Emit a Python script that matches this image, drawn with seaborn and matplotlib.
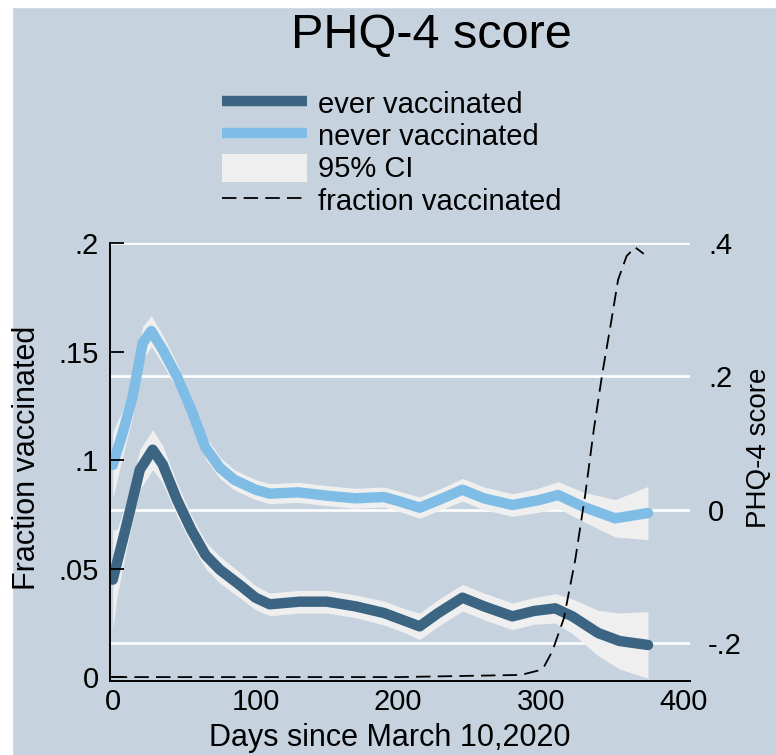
import numpy as np
import pandas as pd
import matplotlib
matplotlib.use("Agg")
import matplotlib.pyplot as plt
import seaborn as sns
from matplotlib.lines import Line2D
from matplotlib.patches import Patch, Rectangle

# ---------------- data ----------------
days_ever = [0, 3, 10, 19, 28, 35, 45, 55, 65, 75, 89, 100, 110, 131, 150, 170, 190, 205, 215, 228, 245, 260, 280, 295, 310, 322, 340, 355, 375]
phq_ever = [-0.105, -0.08, -0.02, 0.06, 0.09, 0.068, 0.015, -0.03, -0.068, -0.09, -0.113, -0.132, -0.142, -0.138, -0.138, -0.145, -0.155, -0.167, -0.175, -0.155, -0.132, -0.145, -0.16, -0.152, -0.148, -0.16, -0.185, -0.197, -0.203]
ever_lo = [-0.18, -0.13, -0.055, 0.03, 0.06, 0.04, -0.01, -0.052, -0.088, -0.11, -0.132, -0.15, -0.159, -0.155, -0.155, -0.162, -0.173, -0.185, -0.195, -0.175, -0.152, -0.165, -0.18, -0.172, -0.17, -0.186, -0.219, -0.239, -0.253]
ever_hi = [-0.03, -0.03, 0.015, 0.09, 0.12, 0.096, 0.04, -0.008, -0.048, -0.07, -0.094, -0.114, -0.125, -0.121, -0.121, -0.128, -0.137, -0.149, -0.155, -0.135, -0.112, -0.125, -0.14, -0.132, -0.126, -0.134, -0.151, -0.155, -0.153]

days_never = [0, 7, 14, 21, 27, 35, 45, 55, 65, 75, 85, 100, 110, 130, 150, 170, 190, 200, 215, 230, 245, 260, 280, 298, 312, 330, 352, 375]
phq_never = [0.067, 0.115, 0.17, 0.25, 0.268, 0.24, 0.2, 0.15, 0.093, 0.063, 0.045, 0.03, 0.024, 0.026, 0.021, 0.017, 0.019, 0.013, 0.003, 0.016, 0.03, 0.017, 0.007, 0.014, 0.022, 0.004, -0.013, -0.005]
never_lo = [0.017, 0.08, 0.14, 0.225, 0.245, 0.218, 0.18, 0.132, 0.076, 0.047, 0.03, 0.015, 0.009, 0.011, 0.006, 0.002, 0.004, -0.002, -0.013, 0.0, 0.013, 0.0, -0.01, -0.004, 0.002, -0.018, -0.041, -0.045]
never_hi = [0.117, 0.15, 0.2, 0.275, 0.291, 0.262, 0.22, 0.168, 0.11, 0.079, 0.06, 0.045, 0.039, 0.041, 0.036, 0.032, 0.034, 0.028, 0.019, 0.032, 0.047, 0.034, 0.024, 0.032, 0.042, 0.026, 0.015, 0.035]

days_frac = [0, 100, 200, 286, 298, 302, 308, 316, 324, 331, 337, 343, 349, 354, 360, 366, 372]
frac_vacc = [0, 0, 0, 0.001, 0.003, 0.0046, 0.012, 0.027, 0.054, 0.084, 0.114, 0.140, 0.163, 0.183, 0.194, 0.198, 0.195]

x_ticks = [0, 100, 200, 300, 400]
left_ticks = [0, 0.05, 0.1, 0.15, 0.2]
left_labels = ["0", ".05", ".1", ".15", ".2"]
right_ticks = [-0.2, 0, 0.2, 0.4]
right_labels = ["-.2", "0", ".2", ".4"]
legend_labels = ["ever vaccinated", "never vaccinated", "95% CI", "fraction vaccinated"]

# ---------------- style ----------------
BG = "#c6d3df"
DARK = "#3b6582"
LIGHT = "#80bde6"
CI = "#efefef"

sns.set_theme(style="white")
plt.rcParams["font.family"] = ["Liberation Sans", "DejaVu Sans"]
plt.rcParams["text.color"] = "black"
plt.rcParams["axes.labelcolor"] = "black"

W, H = 776, 755
fig = plt.figure(figsize=(W / 100, H / 100), dpi=100, facecolor=BG)

# white strips at top and left of the reference image
fig.patches.append(Rectangle((0, 1 - 7 / H), 1, 7 / H, transform=fig.transFigure, color="white", zorder=0))
fig.patches.append(Rectangle((0, 0), 12.5 / W, 1, transform=fig.transFigure, color="white", zorder=0))

L, R, B, T = 110, 690, 681, 243
ax = fig.add_axes([L / W, 1 - B / H, (R - L) / W, (B - T) / H])
ax.set_facecolor(BG)

# PHQ-4 (right scale) drawn on primary axes so the dashed series sits on top
df_ever = pd.DataFrame({"day": days_ever, "phq": phq_ever})
df_never = pd.DataFrame({"day": days_never, "phq": phq_never})
ax.fill_between(days_never, never_lo, never_hi, color=CI, lw=0, zorder=2)
ax.fill_between(days_ever, ever_lo, ever_hi, color=CI, lw=0, zorder=2)
sns.lineplot(data=df_never, x="day", y="phq", ax=ax, color=LIGHT, lw=7.5,
             estimator=None, sort=True, solid_capstyle="round", zorder=3, legend=False)
sns.lineplot(data=df_ever, x="day", y="phq", ax=ax, color=DARK, lw=7.5,
             estimator=None, sort=True, solid_capstyle="round", zorder=3, legend=False)

ax.set_xlim(-1.9, 404.4)
ax.set_ylim(-0.257, 0.4)
ax.set_xticks(x_ticks)
ax.set_xticklabels([str(t) for t in x_ticks])
ax.tick_params(axis="x", direction="in", length=9, width=1.3, pad=5, labelsize=21, colors="black")
for s in ["top", "right", "left"]:
    ax.spines[s].set_visible(False)
ax.spines["bottom"].set_color("black")
ax.spines["bottom"].set_linewidth(1.4)
ax.set_xlabel("")
ax.set_ylabel("")

# fraction vaccinated on the left scale
ax2 = ax.twinx()
ax2.set_facecolor("none")
df_frac = pd.DataFrame({"day": days_frac, "frac": frac_vacc})
sns.lineplot(data=df_frac, x="day", y="frac", ax=ax2, color="black", lw=1.3,
             estimator=None, sort=True, legend=False, zorder=5)
ax2.lines[-1].set_dashes([8, 4])
ax2.set_ylim(-0.0018, 0.2)
ax2.yaxis.tick_left()
ax2.set_yticks(left_ticks)
ax2.set_yticklabels(left_labels)
ax2.tick_params(axis="y", direction="in", length=10, width=1.3, pad=8, labelsize=21, colors="black")
ax2.grid(False)
for s in ["top", "right", "bottom"]:
    ax2.spines[s].set_visible(False)
ax2.spines["left"].set_visible(True)
ax2.spines["left"].set_color("black")
ax2.spines["left"].set_linewidth(1.4)
ax2.set_xlabel("")
ax2.set_ylabel("")

# right-hand PHQ-4 scale (must be set after twinx, which resets tick sides)
ax.yaxis.tick_right()
ax.set_yticks(right_ticks)
ax.set_yticklabels(right_labels)
ax.grid(axis="y", color="white", lw=1.9)
ax.grid(axis="x", visible=False)
ax.set_axisbelow(True)
ax.tick_params(axis="y", which="both", left=False, right=True, labelleft=False, labelright=True,
               length=0, pad=13, labelsize=21, colors="black")

# texts
fig.text(431 / W, 1 - 48 / H, "PHQ-4 score", ha="center", va="baseline", fontsize=35)
fig.text(390 / W, 1 - 746 / H, "Days since March 10,2020", ha="center", va="baseline", fontsize=22)
fig.text(27 / W, 1 - 458 / H, "Fraction vaccinated", rotation=90, ha="center", va="center", fontsize=22)
fig.text(746 / W, 1 - 448 / H, "PHQ-4 score", rotation=90, ha="left", va="center", fontsize=20)

# legend
handles = [
    Line2D([], [], color=DARK, lw=7.5, solid_capstyle="butt"),
    Line2D([], [], color=LIGHT, lw=7.5, solid_capstyle="butt"),
    Patch(facecolor=CI, edgecolor="none"),
    Line2D([], [], color="black", lw=1.3, dashes=[8, 4]),
]
fig.legend(handles, legend_labels, loc="upper left", bbox_to_anchor=(222 / W, 1 - 89 / H),
           frameon=False, fontsize=21, handlelength=2.9, handleheight=1.1,
           handletextpad=0.4, labelspacing=0.08, borderpad=0, borderaxespad=0)

fig.savefig("out.png", dpi=100, facecolor=BG)
